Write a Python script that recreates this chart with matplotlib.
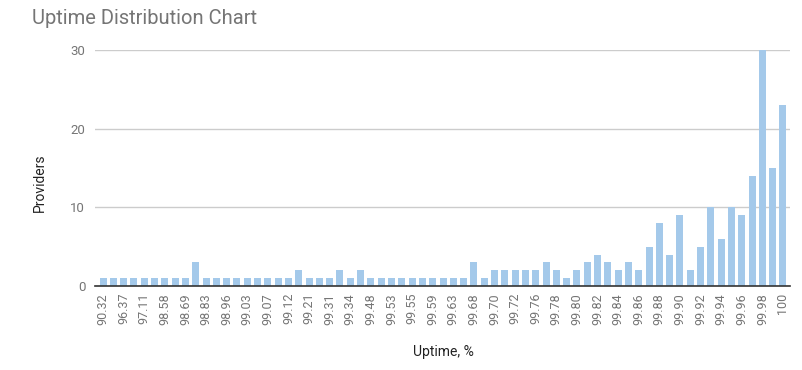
import matplotlib
matplotlib.use("Agg")
import matplotlib.pyplot as plt

plt.rcParams['font.family'] = ['Roboto', 'DejaVu Sans']

uptime = ["90.32", "95.40", "96.37", "96.90", "97.11", "98.10", "98.58", "98.63", "98.69", "98.75",
          "98.83", "98.90", "98.96", "99.00", "99.03", "99.05", "99.07", "99.10", "99.12", "99.15",
          "99.21", "99.25", "99.31", "99.33", "99.34", "99.40", "99.48", "99.50", "99.53", "99.54",
          "99.55", "99.57", "99.59", "99.61", "99.63", "99.66", "99.68", "99.69", "99.70", "99.71",
          "99.72", "99.74", "99.76", "99.77", "99.78", "99.79", "99.80", "99.81", "99.82", "99.83",
          "99.84", "99.85", "99.86", "99.87", "99.88", "99.89", "99.90", "99.91", "99.92", "99.93",
          "99.94", "99.95", "99.96", "99.97", "99.98", "99.99", "100"]
providers = [1, 1, 1, 1, 1, 1, 1, 1, 1, 3,
             1, 1, 1, 1, 1, 1, 1, 1, 1, 2,
             1, 1, 1, 2, 1, 2, 1, 1, 1, 1,
             1, 1, 1, 1, 1, 1, 3, 1, 2, 2,
             2, 2, 2, 3, 2, 1, 2, 3, 4, 3,
             2, 3, 2, 5, 8, 4, 9, 2, 5, 10,
             6, 10, 9, 14, 30, 15, 23]
y_ticks = [0, 10, 20, 30]

fig = plt.figure(figsize=(8.02, 3.70), dpi=100)
ax = fig.add_axes([95/802, 1-286/370, (790-95)/802, (286-50)/370])

x = list(range(len(uptime)))
ax.bar(x, providers, width=0.68, color='#a4c9ea', zorder=3)

ax.set_xlim(-0.78, len(uptime) - 1 + 0.68)
ax.set_ylim(0, 30)
ax.set_yticks(y_ticks)
ax.set_yticklabels([str(v) for v in y_ticks], fontsize=9.5, color='#757575')
ax.yaxis.grid(True, color='#cccccc', linewidth=1, zorder=0)
ax.tick_params(axis='y', length=0, pad=7)

ax.set_xticks(x[::2])
ax.set_xticklabels(uptime[::2], rotation=90, fontsize=9, color='#757575')
ax.tick_params(axis='x', length=0, pad=5)

for s in ['top', 'right', 'left']:
    ax.spines[s].set_visible(False)
ax.spines['bottom'].set_color('#333333')
ax.spines['bottom'].set_linewidth(1.2)
ax.spines['bottom'].set_zorder(4)

fig.text(32/802, 1-18/370, "Uptime Distribution Chart", fontsize=14.5, color='#757575',
         ha='left', va='center')
fig.text(40/802, 1-183/370, "Providers", fontsize=10, color='#222222', rotation=90,
         ha='center', va='center')
fig.text(443/802, 1-352/370, "Uptime, %", fontsize=10, color='#222222',
         ha='center', va='center')

fig.savefig("out.png", dpi=100)
